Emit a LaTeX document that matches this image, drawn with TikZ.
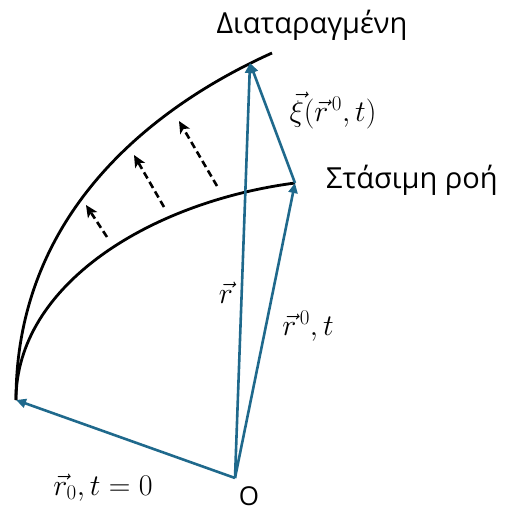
\RequirePackage{fix-cm}
\documentclass[tikz,border=0pt]{standalone}
\usepackage{fontspec}
\setmainfont{Open Sans}
\usetikzlibrary{arrows.meta}
\definecolor{vblue}{RGB}{31,105,140}
\begin{document}
\begin{tikzpicture}[x=1pt,y=-1pt,
  curve/.style={line width=2.8pt,black},
  vec/.style={line width=2.6pt,vblue,-{Triangle[length=10pt,width=9pt]}},
  dasharrow/.style={line width=2.6pt,black,dash pattern=on 7pt off 4pt,-{Stealth[length=12pt,width=11pt,inset=3pt]}},
  lbl/.style={font=\fontsize{29}{34}\selectfont,inner sep=0pt},
  mlbl/.style={font=\fontsize{30}{36}\selectfont,inner sep=0pt}]
\useasboundingbox (0,0) rectangle (504,512);
\coordinate (O) at (235,478);
\coordinate (A) at (16,400);
\coordinate (B) at (295,183);
\coordinate (C) at (250,63);
\coordinate (E) at (272,53);
% curves
\draw[curve] (A) .. controls (16,215) and (150,108) .. (E);
\draw[curve] (A) .. controls (16,285) and (150,202) .. (B);
% dashed arrows
\coordinate (d1s) at (107,237); \coordinate (d1e) at (86,205);
\coordinate (d2s) at (164,207); \coordinate (d2e) at (134,155);
\coordinate (d3s) at (217,186); \coordinate (d3e) at (179,121);
\draw[dasharrow] (d1s) -- (d1e);
\draw[dasharrow] (d2s) -- (d2e);
\draw[dasharrow] (d3s) -- (d3e);
% vectors
\draw[vec] (O) -- (A);
\draw[vec] (O) -- (B);
\draw[vec] (O) -- (C);
\draw[vec] (B) -- (C);
% labels
\node[lbl,anchor=base] (t1) at (312,33) {Διαταραγμένη};
\node[lbl,anchor=base west] (t2) at (326,188) {Στάσιμη ροή};
\node[lbl,anchor=base,font=\fontsize{26}{30}\selectfont] (to) at (249,505) {O};
\node[mlbl,anchor=base] (l1) at (333,121) {$\vec{\xi}(\vec{r}^{\,0},t)$};
\node[mlbl,anchor=base] (l2) at (226,303) {$\vec{r}$};
\node[mlbl,anchor=base] (l3) at (308,335) {$\vec{r}^{\,0},t$};
\node[mlbl,anchor=base] (l4) at (103,495) {$\vec{r}_0,t=0$};
\end{tikzpicture}
\end{document}
